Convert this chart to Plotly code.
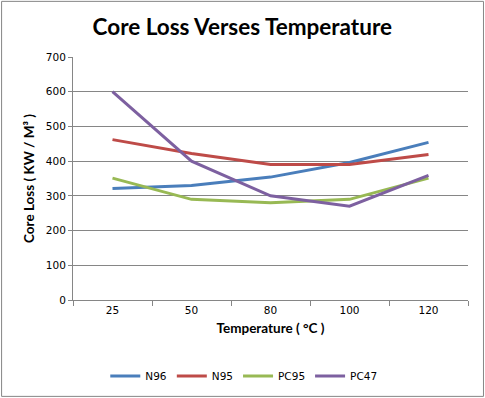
import plotly.graph_objects as go

temps = ["25", "50", "80", "100", "120"]
n96 = [321, 330, 354, 396, 454]
n95 = [462, 422, 390, 390, 419]
pc95 = [351, 290, 280, 290, 351]
pc47 = [600, 400, 300, 270, 359]
series_names = ["N96", "N95", "PC95", "PC47"]
colors = ["#4A7EBB", "#BE4B48", "#98B954", "#7D60A0"]
y_ticks = [0, 100, 200, 300, 400, 500, 600, 700]

W, H = 485, 398
L, R, T, B = 72.5, 17, 56.7, 98

fig = go.Figure()
for name, vals, c in zip(series_names, [n96, n95, pc95, pc47], colors):
    fig.add_trace(go.Scatter(x=temps, y=vals, name=name, mode="lines",
                             line=dict(color=c, width=3)))

pw = W - L - R
ph = H - T - B
fig.update_layout(
    width=W, height=H,
    margin=dict(l=L, r=R, t=T, b=B, pad=0, autoexpand=False),
    paper_bgcolor="white", plot_bgcolor="white",
    title=dict(text="<b>Core Loss Verses Temperature</b>",
               font=dict(family="Lato", size=22.5, color="black"),
               x=(242 - L) / pw, xref="paper", xanchor="center", y=1 - 27 / H, yanchor="middle"),
    xaxis=dict(type="category", range=[-0.5, len(temps) - 0.5], tickson="boundaries",
               ticks="outside", ticklen=5, automargin=False,
               tickcolor="#868686", showline=True, linecolor="#868686", linewidth=1,
               showgrid=False, tickfont=dict(family="DejaVu Sans", size=10.5, color="black"),
               title=dict(text="<b>Temperature ( °C )</b>", standoff=8,
                          font=dict(family="Lato", size=13.5, color="black"))),
    yaxis=dict(range=[0, 700], tickvals=y_ticks, ticks="outside", ticklen=4, automargin=False,
               tickcolor="#868686", showline=True, linecolor="#868686", linewidth=1,
               showgrid=True, gridcolor="#868686", gridwidth=1, zeroline=False,
               tickfont=dict(family="DejaVu Sans", size=10.5, color="black"),
               title=dict(text="<b>Core Loss ( KW / M³ )</b>", standoff=8,
                          font=dict(family="Lato", size=13.5, color="black"))),
    legend=dict(orientation="h", x=(243.5 - L) / pw, xanchor="center",
                y=-(376 - (H - B)) / ph, yanchor="middle",
                font=dict(family="DejaVu Sans", size=10.5, color="black"),
                itemwidth=30, tracegroupgap=0),
    shapes=[dict(type="rect", xref="paper", yref="paper",
                 x0=(1 - L) / pw, x1=(483.5 - L) / pw,
                 y0=(H - B - 396.5) / ph, y1=(H - B - 1) / ph,
                 line=dict(color="#868686", width=1), layer="below")],
    showlegend=True,
)
fig.write_html("out.html", config={"displayModeBar": False},
               post_script="document.body.style.margin='0';document.body.style.overflow='hidden';")
